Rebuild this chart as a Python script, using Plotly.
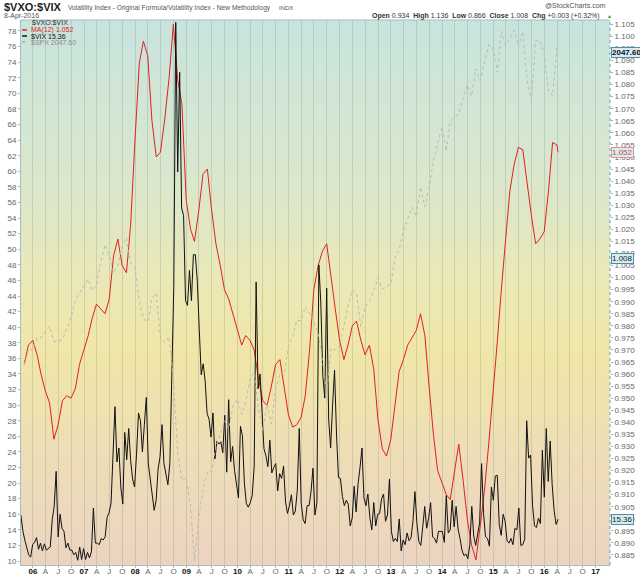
import plotly.graph_objects as go
import pandas as pd

# $VIX closes, every second Friday from 7-Oct-2005 to 8-Apr-2016
vix = [
    15.9, 13.9, 12.7, 11.6, 10.8, 10.5, 12.1,
    12.4, 13.0, 11.5, 12.3, 11.3, 12.2, 11.4, 11.6, 11.8, 15.3, 17.0, 21.5, 13.1,
    16.0, 14.2, 13.8, 11.7, 12.3, 11.4, 11.4, 10.8, 11.1, 10.1, 11.8, 10.2, 11.6,
    10.2, 11.1, 10.4, 11.2, 16.8, 12.3, 12.3, 12.1, 12.9, 12.7, 13.1, 15.6, 16.2,
    17.4, 24.2, 29.8, 22.7, 24.5, 19.4, 17.3, 26.5, 23.0, 27.0, 22.9, 20.5, 19.5,
    23.7, 29.0, 28.0, 24.0, 27.5, 31.0, 22.5, 20.3, 18.2, 16.5, 17.8, 21.8, 23.4,
    27.5, 22.5, 21.2, 19.8, 22.6, 32.1, 45.1, 79.1, 59.9, 72.7, 55.3, 54.3, 43.4,
    42.8, 47.3, 43.4, 49.3, 49.3, 45.9, 39.7, 33.9, 35.3, 33.1, 28.9, 28.2, 25.9,
    29.0, 23.1, 25.4, 25.0, 25.3, 23.9, 28.7, 21.4, 30.7, 22.7, 24.7, 21.6, 19.5,
    18.1, 27.3, 26.1, 20.0, 17.4, 16.9, 17.5, 18.4, 22.1, 45.8, 32.1, 34.0, 29.0,
    24.4, 23.5, 22.1, 25.5, 21.3, 22.0, 22.5, 19.0, 21.2, 20.6, 22.2, 17.6, 16.1,
    17.1, 18.5, 15.9, 16.4, 19.1, 27.0, 17.4, 15.3, 14.8, 17.1, 17.1, 18.9, 21.9,
    15.9, 17.5, 48.0, 43.1, 33.9, 30.9, 45.0, 28.2, 24.5, 30.0, 34.5, 26.3, 20.7,
    20.6, 18.3, 17.1, 17.8, 17.3, 14.5, 15.5, 19.6, 16.3, 19.9, 22.0, 24.5, 18.1,
    17.1, 18.6, 15.6, 14.0, 17.5, 14.5, 16.0, 16.1, 18.0, 18.6, 15.1, 15.9, 20.5,
    13.8, 12.5, 12.9, 12.5, 15.4, 11.3, 12.7, 12.1, 13.6, 12.6, 13.0, 15.1, 18.9,
    14.9, 12.5, 12.0, 14.4, 17.0, 14.2, 15.5, 17.5, 13.1, 12.9, 12.3, 13.8, 13.8,
    13.8, 12.4, 18.4, 13.6, 14.0, 17.8, 14.4, 17.0, 14.1, 12.9, 11.4, 10.7, 10.9,
    10.3, 12.1, 17.0, 13.2, 12.0, 13.3, 14.9, 22.5, 16.1, 13.1, 12.9, 11.9, 19.5,
    17.8, 20.9, 21.0, 14.7, 13.3, 16.0, 15.1, 12.6, 12.3, 12.9, 12.1, 14.2, 14.0,
    16.8, 12.0, 12.1, 12.8, 28.0, 23.2, 23.6, 17.1, 14.5, 14.3, 15.5, 14.8, 24.2,
    18.2, 27.0, 20.2, 25.4, 19.8, 16.5, 14.7, 15.36,
]

# month-end values Oct-2005 .. Mar-2016, then the 8-Apr-2016 value
ma12 = [
    0.964, 0.972, 0.974,
    0.968, 0.960, 0.953, 0.948, 0.933, 0.939, 0.949, 0.951, 0.950, 0.954, 0.964, 0.970,
    0.976, 0.983, 0.989, 0.987, 0.985, 0.991, 1.009, 1.016, 1.005, 1.002, 1.022, 1.057,
    1.089, 1.098, 1.092, 1.065, 1.050, 1.052, 1.066, 1.083, 1.105, 1.082, 1.072, 1.032,
    1.020, 1.015, 1.028, 1.043, 1.045, 1.028, 1.014, 1.005, 0.995, 0.991, 0.985, 0.978,
    0.972, 0.976, 0.974, 0.970, 0.958, 0.949, 0.947, 0.955, 0.964, 0.966, 0.955, 0.943,
    0.938, 0.939, 0.942, 0.951, 0.970, 0.995, 1.005, 1.011, 1.014, 0.999, 0.987, 0.974,
    0.966, 0.972, 0.980, 0.982, 0.974, 0.968, 0.972, 0.962, 0.941, 0.929, 0.926, 0.933,
    0.949, 0.961, 0.966, 0.972, 0.975, 0.978, 0.985, 0.976, 0.955, 0.935, 0.920, 0.915,
    0.910, 0.908, 0.920, 0.931, 0.916, 0.900, 0.889, 0.883, 0.897, 0.912, 0.931, 0.951,
    0.974, 0.995, 1.016, 1.036, 1.047, 1.054, 1.053, 1.038, 1.026, 1.014, 1.016, 1.019,
    1.036, 1.056, 1.055, 1.052,
]

spx = [
    1207, 1249, 1248,
    1280, 1281, 1295, 1311, 1270, 1270, 1277, 1304, 1336, 1378, 1401, 1418,
    1438, 1407, 1421, 1482, 1531, 1503, 1455, 1474, 1527, 1549, 1481, 1468,
    1379, 1331, 1323, 1386, 1400, 1280, 1267, 1283, 1166, 969, 896, 903,
    826, 680, 798, 873, 919, 919, 988, 1021, 1057, 1036, 1096, 1115,
    1074, 1105, 1169, 1187, 1089, 1031, 1102, 1049, 1141, 1183, 1181, 1258,
    1286, 1327, 1326, 1364, 1345, 1321, 1292, 1219, 1131, 1253, 1247, 1258,
    1312, 1366, 1409, 1398, 1310, 1362, 1379, 1407, 1441, 1412, 1416, 1426,
    1498, 1515, 1569, 1598, 1631, 1606, 1686, 1633, 1682, 1757, 1806, 1848,
    1783, 1860, 1872, 1884, 1924, 1960, 1931, 2003, 1972, 2018, 2068, 2059,
    1995, 2105, 2068, 2086, 2107, 2063, 2104, 1972, 1920, 2079, 2080, 2044,
    1940, 1932, 2060, 2047.60,
]

ratio_close = 1.008
ratio_ticks = [round(0.885 + 0.005 * i, 3) for i in range(45)]
ratio_grid = [round(0.89 + 0.01 * i, 2) for i in range(22)]
vix_ticks = list(range(10, 79, 2))
month_letters = {4: 'A', 7: 'J', 10: 'O'}

vix_dates = pd.date_range('2005-10-07', periods=len(vix), freq='14D')
try:
    month_ends = pd.date_range('2005-10-31', '2016-03-31', freq='ME')
except ValueError:
    month_ends = pd.date_range('2005-10-31', '2016-03-31', freq='M')
month_dates = list(month_ends) + [pd.Timestamp('2016-04-08')]

tick_dates = pd.date_range('2006-01-01', '2017-01-01', freq='QS')
tick_text = []
for d in tick_dates:
    if d.month == 1:
        tick_text.append('<span style="color:#111"><b>%02d</b></span>' % (d.year % 100))
    else:
        tick_text.append(month_letters[d.month])

fig = go.Figure()
fig.add_trace(go.Scatter(x=month_dates, y=spx, yaxis='y3', mode='lines',
                         line=dict(color='#B8B8B8', width=1, dash='dot')))
fig.add_trace(go.Scatter(x=month_dates, y=ma12, yaxis='y', mode='lines',
                         line=dict(color='#E3201E', width=1)))
fig.add_trace(go.Scatter(x=vix_dates, y=vix, yaxis='y2', mode='lines',
                         line=dict(color='#111111', width=1)))

# gradient background made of thin bands
grad = [(0.0, (200, 228, 222)), (0.3, (218, 231, 204)), (0.5, (236, 232, 180)),
        (0.62, (240, 230, 168)), (0.8, (238, 221, 182)), (1.0, (236, 212, 193))]


def grad_color(t):
    for (t0, c0), (t1, c1) in zip(grad[:-1], grad[1:]):
        if t <= t1:
            f = (t - t0) / (t1 - t0)
            c = [round(a + (b - a) * f) for a, b in zip(c0, c1)]
            return 'rgb(%d,%d,%d)' % tuple(c)
    return 'rgb(%d,%d,%d)' % grad[-1][1]


shapes = []
n_bands = 90
for i in range(n_bands):
    t0 = i / n_bands
    t1 = (i + 1) / n_bands
    shapes.append(dict(type='rect', xref='paper', yref='paper', x0=0, x1=1,
                       y0=1 - t1, y1=min(1, 1 - t0 + 0.002),
                       fillcolor=grad_color((t0 + t1) / 2), line=dict(width=0),
                       layer='below'))
shapes.append(dict(type='line', xref='paper', yref='paper', x0=1, x1=1, y0=0, y1=1,
                   line=dict(color='#6E9EC0', width=1, dash='dot')))
shapes.append(dict(type='line', xref='paper', yref='paper', x0=0, x1=1, y0=1, y1=1,
                   line=dict(color='#A5BDBD', width=1)))
# legend swatches
shapes.append(dict(type='line', xref='paper', yref='paper', x0=0.002, x1=0.010,
                   y0=0.9817, y1=0.9817, line=dict(color='#E3201E', width=1.5)))
shapes.append(dict(type='line', xref='paper', yref='paper', x0=0.002, x1=0.010,
                   y0=0.9706, y1=0.9706, line=dict(color='#111111', width=1.5)))
shapes.append(dict(type='line', xref='paper', yref='paper', x0=0.002, x1=0.010,
                   y0=0.9596, y1=0.9596, line=dict(color='#999999', width=1, dash='dot')))

small = 'Liberation Sans, Arial, sans-serif'
ann = []


def text(x, y, s, size=7, color='#555', xanchor='left', **kw):
    ann.append(dict(x=x, y=y, xref='paper', yref='paper', text=s, showarrow=False,
                    xanchor=xanchor, yanchor='middle',
                    font=dict(family=small, size=size, color=color), **kw))


text(-0.0323, 1.0230, '<b>$VXO:$VIX</b>', size=11, color='#222')
text(0.0764, 1.0225, 'Volatility Index - Original Formula/Volatility Index - New Methodology', size=6.7)
text(0.4346, 1.0225, 'INDX', size=6)
text(-0.0323, 1.0068, '8-Apr-2016', size=7)
text(0.9966, 1.0275, '@StockCharts.com', size=7, xanchor='right')
text(0.9864, 1.0073, '<b>Open</b> 0.934  <b>High</b> 1.136  <b>Low</b> 0.866  '
     '<b>Close</b> 1.008  <b>Chg</b> +0.003 (+0.32%)', size=7, color='#333', xanchor='right')
text(0.9915, 1.0073, '▲', size=5, color='#1A9A1A')
text(0.0153, 0.9945, '$VXO:$VIX', size=7, color='#333')
text(0.0136, 0.9817, 'MA(12) %.3f' % ma12[-1], size=7, color='#E3201E')
text(0.0136, 0.9706, '$VIX %.2f' % vix[-1], size=7, color='#111')
text(0.0136, 0.9596, '$SPX %.2f' % spx[-1], size=7, color='#888')


def tag(y, yref, s, color, border):
    ann.append(dict(x=1, y=y, xref='paper', yref=yref, text=s, showarrow=False,
                    xanchor='left', yanchor='middle', xshift=1,
                    bgcolor='#D6ECF1', bordercolor=border, borderwidth=1, borderpad=0,
                    font=dict(family=small, size=8, color=color)))


tag(spx[-1], 'y3', '<b>%.2f</b>' % spx[-1], '#111', '#4E8FA8')
tag(ma12[-1], 'y', '%.3f' % ma12[-1], '#D04848', '#E39090')
tag(ratio_close, 'y', '%.3f' % ratio_close, '#222', '#4E8FA8')
tag(vix[-1], 'y2', '%.2f' % vix[-1], '#222', '#4E8FA8')

tick_font = dict(family=small, size=8, color='#666')
ratio_range = [0.88085, 1.10678]
grid_col = 'rgba(110,135,120,0.24)'

fig.update_layout(
    width=640, height=576,
    margin=dict(l=21, r=30, t=20, b=11),
    paper_bgcolor='white', plot_bgcolor='white',
    showlegend=False,
    shapes=shapes, annotations=ann,
    xaxis=dict(type='date', range=['2005-10-08', '2017-04-14'], automargin=False,
               tickvals=list(tick_dates), ticktext=tick_text, tickangle=0,
               showgrid=True, gridcolor=grid_col, gridwidth=1,
               showline=True, linecolor='#A5BDBD', ticks='outside', ticklen=2,
               tickcolor='#A5BDBD', tickfont=tick_font, zeroline=False,
               ticklabelstandoff=-4),
    yaxis=dict(range=ratio_range, side='right', tickvals=ratio_ticks, automargin=False,
               ticktext=['%.3f' % v for v in ratio_ticks], showgrid=False,
               ticks='outside', ticklen=2, tickcolor='#8FB0C8', tickfont=tick_font,
               zeroline=False, showline=False),
    yaxis2=dict(overlaying='y', side='left', range=[9.49, 79.41], tickvals=vix_ticks,
                automargin=False,
                showgrid=False, showline=True, linecolor='#A5BDBD', ticks='outside',
                ticklen=2, tickcolor='#A5BDBD', tickfont=tick_font, zeroline=False),
    yaxis3=dict(overlaying='y', range=[669, 2135], visible=False, automargin=False),
    yaxis4=dict(overlaying='y', side='right', range=ratio_range, tickvals=ratio_grid,
                automargin=False,
                showgrid=True, gridcolor=grid_col, showticklabels=False, ticks='',
                zeroline=False, showline=False),
)

# the page body has a default 8px margin; drop it so the 640x576 figure fills the window
fig.write_html('out.html', config={'displayModeBar': False},
               post_script="document.body.style.margin='0';")
